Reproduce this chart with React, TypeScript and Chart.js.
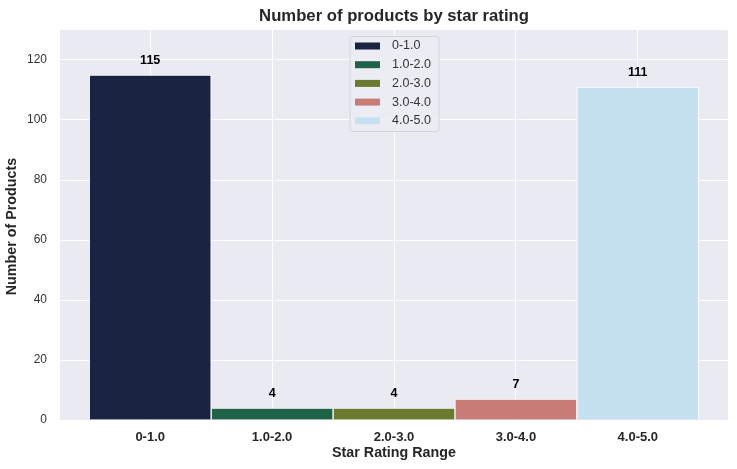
import React, { useEffect, useRef } from "react";
import { Chart, registerables } from "chart.js";

Chart.register(...registerables);

const categories = ["0-1.0", "1.0-2.0", "2.0-3.0", "3.0-4.0", "4.0-5.0"];
const counts = [115, 4, 4, 7, 111];
const colors = ["#1b2342", "#1e6347", "#6a7a2e", "#c97b78", "#c5e1ef"];
const yTicks = [0, 20, 40, 60, 80, 100, 120];
const yMax = 130;
const xPad = 0.74;
const titleText = "Number of products by star rating";
const xTitle = "Star Rating Range";
const yTitle = "Number of Products";

const FONT = "'Liberation Sans', Arial, sans-serif";

const overlayPlugin = {
  id: "overlay",
  afterDatasetsDraw(chart: any) {
    const ctx = chart.ctx;
    const area = chart.chartArea;
    const cx = (area.left + area.right) / 2;
    ctx.save();
    // data labels
    ctx.fillStyle = "#000";
    ctx.font = `bold 12.5px ${FONT}`;
    ctx.textAlign = "center";
    ctx.textBaseline = "alphabetic";
    chart.data.datasets.forEach((ds: any, i: number) => {
      const meta = chart.getDatasetMeta(i);
      const el = meta.data[0];
      if (!el) return;
      ctx.fillText(String(counts[i]), el.x, el.y - 11);
    });
    // legend
    const boxW = 89;
    const boxH = 95;
    const bx = cx - boxW / 2 + 0.5;
    const by = 36.5;
    ctx.beginPath();
    const r = 3;
    ctx.moveTo(bx + r, by);
    ctx.lineTo(bx + boxW - r, by);
    ctx.quadraticCurveTo(bx + boxW, by, bx + boxW, by + r);
    ctx.lineTo(bx + boxW, by + boxH - r);
    ctx.quadraticCurveTo(bx + boxW, by + boxH, bx + boxW - r, by + boxH);
    ctx.lineTo(bx + r, by + boxH);
    ctx.quadraticCurveTo(bx, by + boxH, bx, by + boxH - r);
    ctx.lineTo(bx, by + r);
    ctx.quadraticCurveTo(bx, by, bx + r, by);
    ctx.closePath();
    ctx.fillStyle = "rgba(236,236,244,0.85)";
    ctx.fill();
    ctx.strokeStyle = "#d6d6d6";
    ctx.lineWidth = 1;
    ctx.stroke();
    ctx.font = `12.5px ${FONT}`;
    ctx.textAlign = "left";
    ctx.textBaseline = "middle";
    categories.forEach((c, i) => {
      const y = 46 + i * 18.7;
      ctx.fillStyle = colors[i];
      ctx.fillRect(bx + 5, y - 3.5, 25, 7);
      ctx.fillStyle = "#333";
      ctx.fillText(c, bx + 42, y);
    });
    // titles
    ctx.fillStyle = "#262626";
    ctx.textAlign = "center";
    ctx.textBaseline = "middle";
    ctx.font = `bold 16.7px ${FONT}`;
    ctx.fillText(titleText, cx, 16.5);
    ctx.font = `bold 14.3px ${FONT}`;
    ctx.fillText(xTitle, cx, 453.5);
    ctx.translate(12.5, (area.top + area.bottom) / 2 + 1.5);
    ctx.rotate(-Math.PI / 2);
    ctx.fillText(yTitle, 0, 0);
    ctx.restore();
  },
};

const bgPlugin = {
  id: "bg",
  beforeDraw(chart: any) {
    const ctx = chart.ctx;
    const a = chart.chartArea;
    ctx.save();
    ctx.fillStyle = "#fff";
    ctx.fillRect(0, 0, chart.width, chart.height);
    ctx.fillStyle = "#eaeaf2";
    ctx.fillRect(a.left, a.top, a.right - a.left, a.bottom - a.top);
    ctx.restore();
  },
};

export default function App() {
  const ref = useRef<HTMLCanvasElement | null>(null);
  useEffect(() => {
    if (!ref.current) return;
    const chart = new Chart(ref.current, {
      type: "bar",
      data: {
        datasets: categories.map((c, i) => ({
          label: c,
          data: [{ x: i, y: counts[i] }],
          backgroundColor: colors[i],
          borderColor: "#ffffff",
          borderWidth: 1,
          barPercentage: 1,
          categoryPercentage: 1,
          grouped: false,
        })),
      } as any,
      options: {
        animation: false,
        responsive: true,
        maintainAspectRatio: false,
        layout: { padding: { left: 0, right: 9, top: 30, bottom: 0 } },
        plugins: {
          legend: { display: false },
          title: { display: false },
          tooltip: { enabled: false },
        },
        scales: {
          x: {
            type: "linear",
            offset: false,
            min: -xPad,
            max: categories.length - 1 + xPad,
            afterBuildTicks: (s: any) => {
              s.ticks = categories.map((_, i) => ({ value: i }));
            },
            afterFit: (s: any) => {
              s.height = 49;
            },
            grid: { color: "#ffffff", lineWidth: 1, drawTicks: false, offset: false },
            border: { display: false },
            ticks: {
              padding: 10,
              color: "#262626",
              font: { family: FONT, size: 13, weight: "bold" },
              callback: (v: any) => categories[v] ?? "",
              maxRotation: 0,
              autoSkip: false,
            },
          },
          y: {
            min: 0,
            max: yMax,
            afterBuildTicks: (s: any) => {
              s.ticks = yTicks.map((v) => ({ value: v }));
            },
            afterFit: (s: any) => {
              s.width = 60;
            },
            grid: { color: "#ffffff", lineWidth: 1, drawTicks: false },
            border: { display: false },
            ticks: {
              padding: 13,
              color: "#333333",
              font: { family: FONT, size: 12 },
            },
          },
        },
      } as any,
      plugins: [bgPlugin, overlayPlugin],
    });
    return () => chart.destroy();
  }, []);
  return (
    <div style={{ position: "fixed", left: 0, top: 0, width: 737, height: 469, background: "#fff" }}>
      <canvas ref={ref} style={{ width: "100%", height: "100%" }} />
    </div>
  );
}
